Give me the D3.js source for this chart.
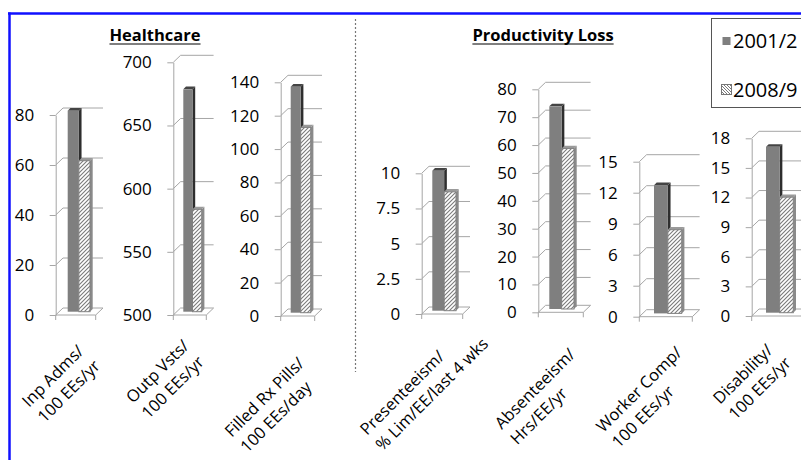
<!DOCTYPE html>
<html>
<head>
<meta charset="utf-8">
<script src="https://cdn.jsdelivr.net/npm/d3@7"></script>
<style>
  body { margin: 0; background: #fff; }
  text { font-family: "Open Sans", sans-serif; }
</style>
</head>
<body>
<div id="chart"></div>
<script>
// data
var series = ["2001/2", "2008/9"];
var groupTitles = ["Healthcare", "Productivity Loss"];
var categoryLines = [
  ["Inp Adms/", "100 EEs/yr"],
  ["Outp Vsts/", "100 EEs/yr"],
  ["Filled Rx Pills/", "100 EEs/day"],
  ["Presenteeism/", "% Lim/EE/last 4 wks"],
  ["Absenteeism/", "Hrs/EE/yr"],
  ["Worker Comp/", "100 EEs/yr"],
  ["Disability/", "100 EEs/yr"]
];
var values2001 = [80.4, 676, 135.4, 9.95, 72.7, 12.4, 16.8];
var values2008 = [60.4, 581, 111, 8.45, 57.6, 8.1, 11.7];
var tickValues = [
  [0, 20, 40, 60, 80],
  [500, 550, 600, 650, 700],
  [0, 20, 40, 60, 80, 100, 120, 140],
  [0, 2.5, 5, 7.5, 10],
  [0, 10, 20, 30, 40, 50, 60, 70, 80],
  [0, 3, 6, 9, 12, 15],
  [0, 3, 6, 9, 12, 15, 18]
];
var tickLabels = [
  ["0", "20", "40", "60", "80"],
  ["500", "550", "600", "650", "700"],
  ["0", "20", "40", "60", "80", "100", "120", "140"],
  ["0", "2.5", "5", "7.5", "10"],
  ["0", "10", "20", "30", "40", "50", "60", "70", "80"],
  ["0", "3", "6", "9", "12", "15"],
  ["0", "3", "6", "9", "12", "15", "18"]
];

// layout of each little chart (pixels)
var panels = [
  { ax: 55.7,  y0: 315,   y1: 115,   w: 40, b0: 67.7,  b1: 90,    lx: 29,    ly: 408 },
  { ax: 173.3, y0: 315,   y1: 62.3,  w: 33, b0: 183.3, b1: 201.7, lx: 133,   ly: 404 },
  { ax: 280.7, y0: 316,   y1: 82.3,  w: 34, b0: 290.7, b1: 310.7, lx: 231.7, ly: 438 },
  { ax: 421.7, y0: 314,   y1: 173.3, w: 41, b0: 432.3, b1: 456,   lx: 367,   ly: 436 },
  { ax: 538.3, y0: 312.3, y1: 89.3,  w: 45, b0: 549.3, b1: 574,   lx: 501.7, ly: 430 },
  { ax: 639.3, y0: 316.7, y1: 161.7, w: 53, b0: 654,   b1: 681.7, lx: 603.3, ly: 433.3 },
  { ax: 751.7, y0: 316,   y1: 138.3, w: 56, b0: 766,   b1: 793.3, lx: 720,   ly: 405 }
];

var width = 801, height = 460;
var depthX = 7.3, depthY = 7;   // side wall perspective
var sideW = 2.7, sideH = 2.7;   // bar side face
var barShift = 3.3;             // bars sit half way into the floor
var gridColor = "#a6a6a6";

var svg = d3.select("#chart")
  .append("svg")
  .attr("width", width)
  .attr("height", height);

var defs = svg.append("defs");
defs.append("pattern")
  .attr("id", "hatch")
  .attr("patternUnits", "userSpaceOnUse")
  .attr("width", 4).attr("height", 4)
  .call(function (p) {
    p.append("rect").attr("width", 4).attr("height", 4).attr("fill", "#fff");
    p.append("path").attr("d", "M-1,1 l2,-2 M0,4 l4,-4 M3,5 l2,-2")
      .attr("stroke", "#7a7a7a").attr("stroke-width", 1.1);
  });
defs.append("pattern")
  .attr("id", "hatchLegend")
  .attr("patternUnits", "userSpaceOnUse")
  .attr("width", 3).attr("height", 3)
  .call(function (p) {
    p.append("rect").attr("width", 3).attr("height", 3).attr("fill", "#fff");
    p.append("path").attr("d", "M-1,2 l2,2 M0,0 l3,3 M2,-1 l2,2")
      .attr("stroke", "#6a6a6a").attr("stroke-width", 0.9);
  });

// blue frame
svg.append("line").attr("x1", 8).attr("x2", width).attr("y1", 13.5).attr("y2", 13.5)
  .attr("stroke", "#1010ff").attr("stroke-width", 2.5);
svg.append("line").attr("x1", 9.5).attr("x2", 9.5).attr("y1", 12.5).attr("y2", height)
  .attr("stroke", "#1010ff").attr("stroke-width", 2.5);

// dotted separator
svg.append("line").attr("x1", 355.5).attr("x2", 355.5).attr("y1", 19).attr("y2", 372)
  .attr("stroke", "#777").attr("stroke-width", 1.2).attr("stroke-dasharray", "2,2");

// group titles, underlined
[[155, groupTitles[0]], [543, groupTitles[1]]].forEach(function (t) {
  var txt = svg.append("text")
    .attr("x", t[0]).attr("y", 41)
    .attr("text-anchor", "middle")
    .attr("font-size", 16.5).attr("font-weight", "bold")
    .attr("fill", "#000")
    .text(t[1]);
  var len = txt.node().getComputedTextLength();
  svg.append("line")
    .attr("x1", t[0] - len / 2).attr("x2", t[0] + len / 2)
    .attr("y1", 44).attr("y2", 44)
    .attr("stroke", "#000").attr("stroke-width", 1.2);
});

panels.forEach(function (p, i) {
  var ticks = tickValues[i];
  var y = d3.scaleLinear()
    .domain([ticks[0], ticks[ticks.length - 1]])
    .range([p.y0, p.y1]);
  var x = d3.scaleBand().domain(series).range([p.b0, p.b1]);
  var g = svg.append("g");

  // side wall + back wall gridlines
  g.selectAll(".grid")
    .data(ticks)
    .enter().append("path")
    .attr("d", function (d) {
      return "M" + p.ax + "," + y(d) + "l" + depthX + "," + (-depthY) + "h" + p.w;
    })
    .attr("fill", "none").attr("stroke", gridColor).attr("stroke-width", 1);

  // floor front edge and category ticks
  var f = y(ticks[0]);
  g.append("path")
    .attr("d", "M" + p.ax + "," + f + "h" + p.w + "l" + depthX + "," + (-depthY) +
      "M" + p.ax + "," + f + "v5" + "M" + (p.ax + p.w) + "," + f + "v5")
    .attr("fill", "none").attr("stroke", gridColor).attr("stroke-width", 1);

  // bars
  var vals = [values2001[i], values2008[i]];
  var bw = x.bandwidth();
  series.forEach(function (s, k) {
    var bx = x(s);
    var top = y(vals[k]) - barShift;
    var base = y(ticks[0]) - barShift;
    var bar = g.append("g");
    bar.append("polygon")
      .attr("points", [[bx + bw, top], [bx + bw + sideW, top - sideH],
        [bx + bw + sideW, base - sideH], [bx + bw, base]].join(" "))
      .attr("fill", k === 0 ? "#2e2e2e" : "#8a8a8a");
    bar.append("polygon")
      .attr("points", [[bx, top], [bx + sideW, top - sideH],
        [bx + bw + sideW, top - sideH], [bx + bw, top]].join(" "))
      .attr("fill", k === 0 ? "#444" : "#9a9a9a");
    bar.append("rect")
      .attr("x", bx).attr("y", top)
      .attr("width", bw).attr("height", base - top)
      .attr("fill", k === 0 ? "#7f7f7f" : "url(#hatch)")
      .attr("stroke", k === 0 ? "none" : "#808080")
      .attr("stroke-width", 1);
  });

  // value axis
  var axis = svg.append("g")
    .attr("transform", "translate(" + p.ax + ",0)")
    .call(d3.axisLeft(y)
      .tickValues(ticks)
      .tickFormat(function (d, j) { return tickLabels[i][j]; })
      .tickSize(6)
      .tickSizeOuter(0)
      .tickPadding(15.5));
  axis.selectAll("path, line").attr("stroke", gridColor);
  axis.selectAll("text")
    .attr("font-size", 17)
    .attr("font-family", "'Open Sans', sans-serif")
    .attr("fill", "#000");

  // rotated category label
  var lab = svg.append("text")
    .attr("transform", "translate(" + p.lx + "," + p.ly + ") rotate(-45)")
    .attr("font-size", 16.5)
    .attr("fill", "#000");
  categoryLines[i].forEach(function (line, j) {
    lab.append("tspan").attr("x", 0).attr("y", j * 22).text(line);
  });
});

// legend
var lg = svg.append("g");
lg.append("rect")
  .attr("x", 711.5).attr("y", 18.5).attr("width", 110).attr("height", 89)
  .attr("fill", "#fff").attr("stroke", "#555").attr("stroke-width", 1);
lg.append("rect")
  .attr("x", 722.5).attr("y", 37).attr("width", 8).attr("height", 8)
  .attr("fill", "#7f7f7f");
lg.append("rect")
  .attr("x", 721.5).attr("y", 84.5).attr("width", 10).attr("height", 10)
  .attr("fill", "url(#hatchLegend)").attr("stroke", "#777").attr("stroke-width", 1);
lg.selectAll(".lt")
  .data(series)
  .enter().append("text")
  .attr("x", 733)
  .attr("y", function (d, k) { return k === 0 ? 47.5 : 96.5; })
  .attr("font-size", 20)
  .attr("fill", "#000")
  .text(function (d) { return d; });
</script>
</body>
</html>
